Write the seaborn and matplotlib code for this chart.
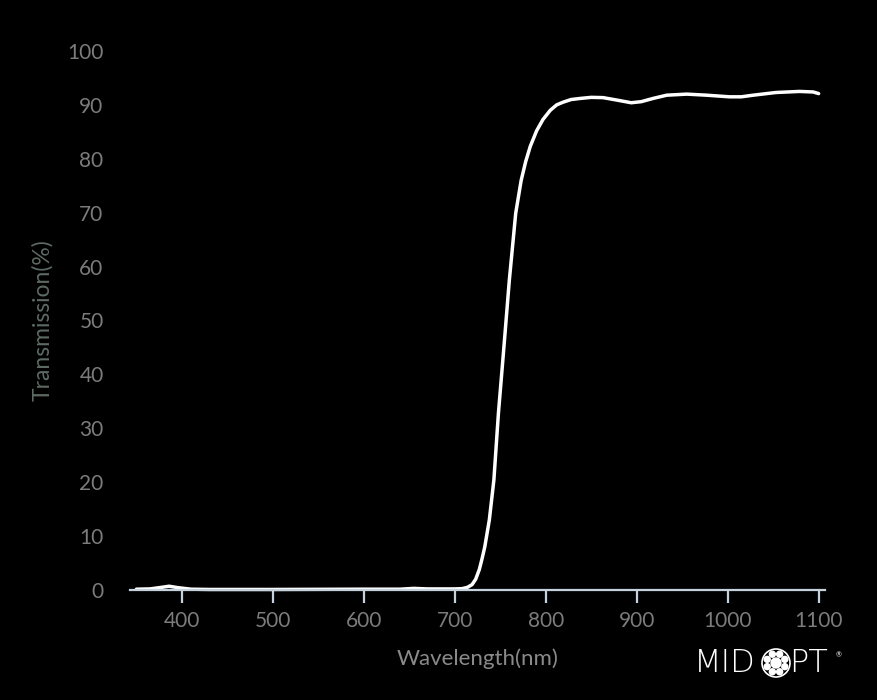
import math
import matplotlib
matplotlib.use("Agg")
import matplotlib.pyplot as plt
from matplotlib.patches import Circle
import seaborn as sns
import pandas as pd

wavelength = [350, 365, 378, 386, 395, 410, 430, 500, 600, 640, 655, 670, 700, 708, 714, 719, 723,
              727, 730, 733, 738, 743, 748, 754, 760, 767, 773, 778, 783, 790, 797, 805, 812, 819,
              828, 838, 850, 863, 878, 894, 905, 918, 933, 955, 977, 1002, 1015, 1028, 1053, 1079,
              1094, 1100]
transmission = [0.15, 0.2, 0.5, 0.7, 0.45, 0.15, 0.1, 0.1, 0.15, 0.15, 0.3, 0.2, 0.2, 0.25, 0.5,
                1.0, 2.0, 3.8, 5.8, 8, 13, 20.4, 32.8, 45, 57.5, 69.9, 76, 79.5, 82.3, 85.2, 87.3,
                89, 90, 90.5, 91, 91.2, 91.4, 91.35, 90.9, 90.4, 90.6, 91.2, 91.8, 92, 91.8, 91.5,
                91.5, 91.8, 92.3, 92.5, 92.4, 92.1]
x_ticks = [400, 500, 600, 700, 800, 900, 1000, 1100]
y_ticks = [0, 10, 20, 30, 40, 50, 60, 70, 80, 90, 100]

df = pd.DataFrame({"Wavelength": wavelength, "Transmission": transmission})

sns.set_theme(style="dark")
plt.rcParams["font.family"] = ["Lato", "DejaVu Sans"]

fig = plt.figure(figsize=(8.78, 7.0), dpi=100, facecolor="black")
ax = fig.add_axes([130 / 878, 1 - 590 / 700, (825 - 130) / 878, (590 - 51) / 700])
ax.set_facecolor("black")

sns.lineplot(data=df, x="Wavelength", y="Transmission", ax=ax, color="white",
             linewidth=2.5, clip_on=False)

ax.set_xlim(343, 1107)
ax.set_ylim(0, 100)
ax.set_xticks(x_ticks)
ax.set_yticks(y_ticks)
ax.grid(False)
for s in ["top", "right", "left"]:
    ax.spines[s].set_visible(False)
ax.spines["bottom"].set_color("#c5d2de")
ax.spines["bottom"].set_linewidth(1.6)

ax.tick_params(axis="x", colors="#c5d2de", labelcolor="#7c7c7c", length=9, width=1.6,
               direction="out", pad=6, labelsize=15, bottom=True)
ax.tick_params(axis="y", length=0, pad=19, labelcolor="#7c7c7c", labelsize=15)

ax.set_xlabel("Wavelength(nm)", color="#8a8a8a", fontsize=16, labelpad=13)
ax.set_ylabel("Transmission(%)", color="#5e6b64", fontsize=16.5, labelpad=10)

# MIDOPT logo
fig.text(694 / 878, 1 - 663 / 700, "MID", color="white", fontsize=23, fontfamily="DejaVu Sans",
         fontweight="light", va="center", ha="left")
ccx, ccy = 776, 700 - 663
fig.patches.append(Circle((ccx, ccy), 14, transform=None, fill=False, edgecolor="white",
                          linewidth=1.2))
fig.patches.append(Circle((ccx, ccy), 5, transform=None, color="white"))
for k in range(8):
    a = k * math.pi / 4 + math.pi / 8
    fig.patches.append(Circle((ccx + 9.5 * math.cos(a), ccy + 9.5 * math.sin(a)), 3,
                              transform=None, color="white"))
fig.text(789 / 878, 1 - 663 / 700, "PT", color="white", fontsize=23, fontfamily="DejaVu Sans",
         fontweight="light", va="center", ha="left")
fig.text(836 / 878, 1 - 655 / 700, "®", color="white", fontsize=5, va="center", ha="left")

fig.savefig("out.png", dpi=100, facecolor="black")
